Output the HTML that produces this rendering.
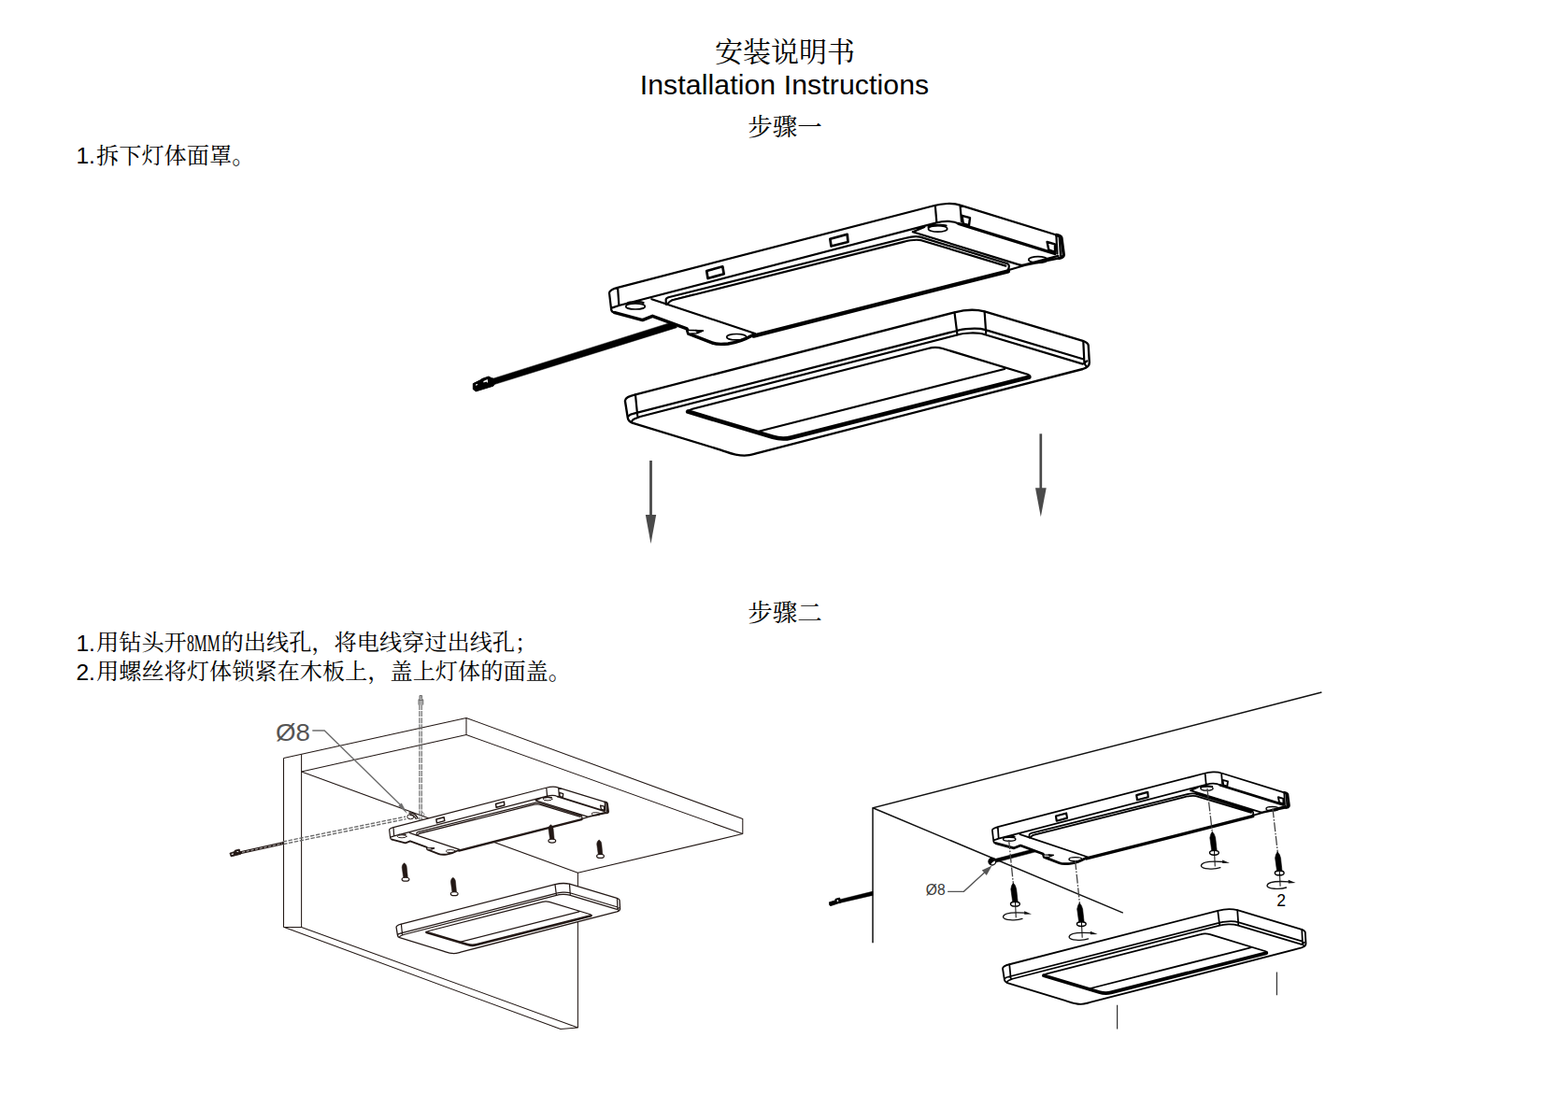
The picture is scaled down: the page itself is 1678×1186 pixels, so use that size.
<!DOCTYPE html>
<html><head><meta charset="utf-8"><title>Installation Instructions</title>
<style>
html,body{margin:0;padding:0;background:#fff;}
body{width:1678px;height:1186px;overflow:hidden;font-family:"Liberation Sans",sans-serif;}
svg{position:absolute;left:0;top:0;display:block}
svg text{font-family:"Liberation Sans",sans-serif;}
svg text.cjk{font-family:"Liberation Serif","Noto Serif CJK SC",serif;}
</style></head><body>
<svg width="1678" height="1186" viewBox="0 0 1678 1186">
<rect width="1678" height="1186" fill="#fff"/>
<text x="839.5" y="101" font-size="30.2" letter-spacing="0.1" text-anchor="middle" fill="#000">Installation Instructions</text>
<text x="81.4" y="175" font-size="24.6" fill="#000">1.</text>
<text x="81.4" y="697.3" font-size="24.6" fill="#000">1.</text>
<text x="81.4" y="727.8" font-size="24.6" fill="#000">2.</text>
<text class="cjk" x="840" y="65.5" font-size="30" text-anchor="middle" fill="#000">安装说明书</text>
<text class="cjk" x="840" y="145" font-size="26.5" text-anchor="middle" fill="#000">步骤一</text>
<text class="cjk" x="840" y="665.2" font-size="26.5" text-anchor="middle" fill="#000">步骤二</text>
<text class="cjk" x="103" y="175" font-size="24.2" fill="#000">拆下灯体面罩。</text>
<text class="cjk" x="103" y="696.3" font-size="24.2" fill="#000">用钻头开</text>
<text class="cjk" x="200" y="696.5" font-size="24.2" textLength="35.5" lengthAdjust="spacingAndGlyphs" fill="#000">8MM</text>
<text class="cjk" x="236.6" y="696.3" font-size="24.2" fill="#000">的出线孔，将电线穿过出线孔；</text>
<text class="cjk" x="103" y="727.3" font-size="24.2" fill="#000">用螺丝将灯体锁紧在木板上，盖上灯体的面盖。</text>

<g>
  <path d="M526.9,405.4 L722.1,343.9 L724.3,350.7 L528.9,411.6 Z" fill="#000" stroke="#000" stroke-width="0.5"/>
  <path d="M506.3,410.6 L515,406.3 L515.4,405.6 L522.9,403 L525.9,404.6 L528,405.2 L528.9,411.6 L527.9,413.2 L509.3,418.9 L506.3,416.7 Z" fill="#000" stroke="#000" stroke-width="0.9" stroke-linejoin="round"/>
  <path d="M509,411.6 L511,411 L511.2,412 L509.2,412.7 Z M517.3,408 L521.8,406.1 L522.1,409.9 L520.5,408.6 L517.5,409.6 Z" fill="#fff"/>
  <g fill="none" stroke="#000" stroke-linecap="round" stroke-linejoin="round">
  <path d="M652,313.5 C652.2,310.5 656,309.2 661,307.9 L1000,220 C1007,218 1020,216.8 1027.5,219.6 L1130.5,251.5 C1133,252 1135.5,252.5 1135.9,254.5 L1138.3,272.7 C1138.3,275 1136,275.8 1133.5,276.3 L1096.6,284 L1078.7,289.2 L806,358.5 C798,363 790,366.5 779.1,368 C770,368.8 765,368.3 761.9,366.9 L736.7,357.2 L735.1,351.9 L698.3,338.3 L687.6,342.6 L657.9,334.7 C656,334.3 654.5,333.5 654.2,331.8 Z" fill="#fff" stroke="none"/>
  <g stroke-width="1.7" fill="#fff"><ellipse cx="680" cy="327.9" rx="10.3" ry="3.1"/><ellipse cx="788.2" cy="360.7" rx="10.5" ry="3.2"/><ellipse cx="1003.6" cy="244.9" rx="10.1" ry="3.3"/><ellipse cx="1110.9" cy="278" rx="10.1" ry="3.3"/></g>
  <path d="
M652,313.5 C652.2,310.5 656,309.2 661,307.9 L1000,220 C1007,218 1020,216.8 1027.5,219.6 L1130.5,251.5
M652,313.5 L654.2,331.8 C654.5,333.5 656,334.3 657.9,334.7
M661.1,308.3 L662.4,327
M1000.8,220 L1002.4,238.4
M1027.5,219.7 L1029,237.5
M654.6,329.6 L662.4,327 L1002.4,238.4
M1002.4,238.4 C1010,236.3 1020,236.3 1026,239.5
M712.9,326 L712.6,321 C712.6,319.4 714,318.8 715.3,318.3 L968.5,255 C974,253.5 980,252.3 984.6,253.6 L1078.1,282.2 C1080.3,283 1080.3,286 1078.7,288.8
M714.1,325.8 C715.5,323.5 717.5,322 719.5,321.3 L966,259.1 C972,257.5 980,256 985.8,257.2 L1076.3,284.6
M697.4,320.2 L808,357
M976.8,248.2 L989.3,242.9
M976.8,248.2 L1090.6,283.4 C1092.5,284 1094.5,284 1096.6,283.4 L1132.4,273.9
M1078.7,289.2 L1096.6,284 L1133.5,276.3
M671,324.6 C674,322.8 684,322.3 688.5,324
M993.5,243 C996,241 1008,240.3 1012.5,241.6
M1130.4,252 L1131.4,271.5
M1133.6,252.8 L1135,273.2
" stroke-width="2.2"/>
  <path d="M718.3,321.2 L742,315.1" stroke-width="1.1"/>
  <path d="
M1026,239.5 L1128.8,271.5
M657.9,334.7 L687.6,342.6 L698.3,338.3 L735.1,351.9 L736.7,357.2 L761.9,366.9 C765,368.3 770,368.8 779.1,368 C790,366.5 798,363 806,358.5
M1130.5,251.5 C1133,252 1135.5,252.5 1135.9,254.5 L1138.3,272.7 C1138.3,275 1136,275.8 1133.5,276.3
" stroke-width="3.4"/>
  <path d="M806.5,359.6 L1078.9,290.3" stroke-width="4.3"/>
  <path d="M735.1,351.9 L737.2,353.4 L752.3,354 L745.8,356.7 L737,357.2 Z" stroke-width="1.6" fill="#fff"/>
  <path d="M744.5,353.3 L752.6,354 L746.8,356.3 Z" stroke-width="1" fill="#000"/>
  <path d="
M756.2,290 L773.3,285.3 L774.7,293.3 L757.5,298 Z
M888.3,255.8 L906.7,250.8 L907.5,259 L889.5,263.5 Z
" stroke-width="2.7"/>
  <path d="
M1029.5,230.8 L1038,233.2 L1037,241.2 L1030.8,239.3 Z
M1120.6,259 L1129,261.4 L1129,269.8 L1122.3,267.5 Z
" stroke-width="2.4"/>
</g>
  <g fill="none" stroke="#000" stroke-linecap="round" stroke-linejoin="round">
  <path d="M668.9,429 C669.2,425.5 673,424 680,422.3 L1021.5,334.3 C1030,332.1 1043,330.8 1053.6,333.3 L1158.8,364.9 C1162,366 1164.3,367 1164.7,369.5 L1165.8,388 C1166,392 1162,394 1158.8,395 L812,484.6 C806,486.2 802,487.6 796.7,487.6 C786,487.6 780,484.5 772,481.8 L676.5,452.6 C673,451.3 672,449.5 671.8,447.2 Z" fill="#fff" stroke-width="2.35"/>
  <path d="
M680,422.6 L682.2,445
M672.5,445.4 C674,443.8 676,443.2 677.4,442.9 L1023.1,354.2
M676,451.5 C676.8,449.5 677.6,449 678.6,448.6 L685,446 L1024.5,358.5
M1021.5,334.7 L1024.5,358.5
M1053.6,333.6 L1055.2,356.5
M1023.1,354.2 C1030,352 1046,350.5 1054.7,353.1
M1024.5,358.5 C1031,356.3 1046,355.5 1053.6,358
M1054.7,353.1 L1158.8,384.2
M1053.6,358 L1158.8,389.6
M1159.3,365.4 L1160.4,388.8
M1160.4,388.5 L1163.3,386.3
M1160.4,388.8 L1162,391.5
M735.8,440.8 C737,439 738,438.5 741,437.7 L993.3,373 C998,371.5 1003,371.3 1008.6,373 L1099.8,400.8 C1102,401.6 1103,402.8 1101.5,404.3
M808,462.8 L1075,395
" stroke-width="2.2"/>
  <path d="
M736.2,440.6 L826.9,467.8 C834,469.9 841,469.9 846.6,468.4 L1101.2,403.7
" stroke-width="4.7"/>
</g>
  <g stroke="#4a4a4a" fill="#4a4a4a">
    <line x1="696.5" y1="493" x2="696.5" y2="552" stroke-width="2.8"/>
    <path d="M690.8,550.9 L702.2,550.9 L696.5,582 Z" stroke="none"/>
    <line x1="1113.8" y1="464.3" x2="1113.8" y2="524" stroke-width="2.7"/>
    <path d="M1108,522.3 L1119.7,522.3 L1113.8,553.3 Z" stroke="none"/>
  </g>
</g>

<g fill="none" stroke="#231815" stroke-width="1.05" stroke-linejoin="round">
  <path d="M303.5,811.4 L499,768.5 L794.8,876.6 L794.8,892.6 L618.4,934.3 L618.4,1099.9"/>
  <path d="M499,768.5 L499,786.5 L794.8,892.6"/>
  <path d="M322.6,826 L499,786.5"/>
  <path d="M303.5,811.4 L303.5,992.3 L599.9,1101.6 L618.4,1099.9 L322.6,992.5 L303.5,992.3"/>
  <path d="M322.6,807.5 L322.6,992.7"/>
  <path d="M322.6,826 L618.4,934.3"/>
</g>

<text x="295" y="793" font-size="26" textLength="37" lengthAdjust="spacingAndGlyphs" fill="#555">Ø8</text>
<path d="M334.3,782 L347.2,782 L428.5,861.5" fill="none" stroke="#6e6e6e" stroke-width="1.4"/>
<path d="M435.9,871 L426.3,862.5 L429.8,859.6 Z" fill="#6e6e6e"/>


<g fill="none" stroke="#6a6a6a" stroke-linecap="butt">
  <line x1="448.95" y1="754" x2="448.95" y2="877.8" stroke-width="1.2" stroke-dasharray="6 1.1"/>
  <line x1="451.25" y1="754" x2="451.25" y2="877.8" stroke-width="1.2" stroke-dasharray="6 1.1"/>
  <line x1="302.7" y1="901" x2="434.1" y2="874.1" stroke-width="1.35" stroke-dasharray="4.4 1.6"/>
  <line x1="303.1" y1="903.6" x2="434.5" y2="876.7" stroke-width="1.35" stroke-dasharray="4.4 1.6"/>
</g>
<path d="M448,754.5 L448,749 L449,747.5 L449,744.5 L451.6,744.5 L451.6,747.5 L452.8,749.5 L452.8,754.5 M448,749.5 L452.8,749.5" fill="#aaa" stroke="#6e6e6e" stroke-width="1"/>
<g fill="none" stroke="#231815" stroke-width="1">
  <ellipse cx="439.3" cy="874.2" rx="3.5" ry="2.6" fill="#fff"/>
  <path d="M437.5,870.2 Q444,869.2 447.3,876.5" stroke-width="1.5"/>
  <path d="M438.5,872.3 Q443,872 445.5,877" stroke-width="1.2"/>
  <path d="M452,869 Q455,871 453.5,873.5" stroke="#6e6e6e" stroke-width="0.8"/>
</g>


<line x1="256" y1="912.9" x2="303.3" y2="902.6" stroke="#231815" stroke-width="3.1"/>
<line x1="259" y1="912.3" x2="302" y2="902.9" stroke="#fff" stroke-width="0.7" stroke-dasharray="3.2 1.6"/>
<path d="M245.9,913.2 L250.8,911.6 L251.2,910.3 L256.2,909 L257.6,914.3 L247.2,916.9 Z" fill="#231815" stroke="#231815" stroke-width="0.8"/>
<path d="M247.6,913.9 L249.6,913.3 L249.9,914.5 L247.9,915.1 Z M252.5,911.6 L255,910.9 L255.3,912.3 Z" fill="#fff"/>

<g><g transform="translate(102.38,737.23) scale(0.482)"><g fill="none" stroke="#231815" stroke-linecap="round" stroke-linejoin="round">
  <path d="M652,313.5 C652.2,310.5 656,309.2 661,307.9 L1000,220 C1007,218 1020,216.8 1027.5,219.6 L1130.5,251.5 C1133,252 1135.5,252.5 1135.9,254.5 L1138.3,272.7 C1138.3,275 1136,275.8 1133.5,276.3 L1096.6,284 L1078.7,289.2 L806,358.5 C798,363 790,366.5 779.1,368 C770,368.8 765,368.3 761.9,366.9 L736.7,357.2 L735.1,351.9 L698.3,338.3 L687.6,342.6 L657.9,334.7 C656,334.3 654.5,333.5 654.2,331.8 Z" fill="#fff" stroke="none"/>
  <g stroke-width="1.95" fill="#fff"><ellipse cx="680" cy="327.9" rx="10.3" ry="3.1"/><ellipse cx="788.2" cy="360.7" rx="10.5" ry="3.2"/><ellipse cx="1003.6" cy="244.9" rx="10.1" ry="3.3"/><ellipse cx="1110.9" cy="278" rx="10.1" ry="3.3"/></g>
  <path d="
M652,313.5 C652.2,310.5 656,309.2 661,307.9 L1000,220 C1007,218 1020,216.8 1027.5,219.6 L1130.5,251.5
M652,313.5 L654.2,331.8 C654.5,333.5 656,334.3 657.9,334.7
M661.1,308.3 L662.4,327
M1000.8,220 L1002.4,238.4
M1027.5,219.7 L1029,237.5
M654.6,329.6 L662.4,327 L1002.4,238.4
M1002.4,238.4 C1010,236.3 1020,236.3 1026,239.5
M712.9,326 L712.6,321 C712.6,319.4 714,318.8 715.3,318.3 L968.5,255 C974,253.5 980,252.3 984.6,253.6 L1078.1,282.2 C1080.3,283 1080.3,286 1078.7,288.8
M714.1,325.8 C715.5,323.5 717.5,322 719.5,321.3 L966,259.1 C972,257.5 980,256 985.8,257.2 L1076.3,284.6
M697.4,320.2 L808,357
M976.8,248.2 L989.3,242.9
M976.8,248.2 L1090.6,283.4 C1092.5,284 1094.5,284 1096.6,283.4 L1132.4,273.9
M1078.7,289.2 L1096.6,284 L1133.5,276.3
M671,324.6 C674,322.8 684,322.3 688.5,324
M993.5,243 C996,241 1008,240.3 1012.5,241.6
M1130.4,252 L1131.4,271.5
M1133.6,252.8 L1135,273.2
" stroke-width="2.53"/>
  <path d="M718.3,321.2 L742,315.1" stroke-width="1.26"/>
  <path d="
M1026,239.5 L1128.8,271.5
M657.9,334.7 L687.6,342.6 L698.3,338.3 L735.1,351.9 L736.7,357.2 L761.9,366.9 C765,368.3 770,368.8 779.1,368 C790,366.5 798,363 806,358.5
M1130.5,251.5 C1133,252 1135.5,252.5 1135.9,254.5 L1138.3,272.7 C1138.3,275 1136,275.8 1133.5,276.3
" stroke-width="3.91"/>
  <path d="M806.5,359.6 L1078.9,290.3" stroke-width="4.94"/>
  <path d="M735.1,351.9 L737.2,353.4 L752.3,354 L745.8,356.7 L737,357.2 Z" stroke-width="1.84" fill="#fff"/>
  <path d="M744.5,353.3 L752.6,354 L746.8,356.3 Z" stroke-width="1.15" fill="#231815"/>
  <path d="
M756.2,290 L773.3,285.3 L774.7,293.3 L757.5,298 Z
M888.3,255.8 L906.7,250.8 L907.5,259 L889.5,263.5 Z
" stroke-width="3.1"/>
  <path d="
M1029.5,230.8 L1038,233.2 L1037,241.2 L1030.8,239.3 Z
M1120.6,259 L1129,261.4 L1129,269.8 L1122.3,267.5 Z
" stroke-width="2.76"/>
</g></g></g>
<path d="M431.8,939.9 L430.2,928.6 C430.2,926.1 431.4,924.5 432.6,923.8000000000001 C433.9,924.5 435.2,926.1 435.3,928.6 L436.4,939.9 Z" fill="#231815" stroke="#231815" stroke-width="0.5"/><ellipse cx="434" cy="941.2" rx="3.9" ry="1.95" fill="#fff" stroke="#231815" stroke-width="1.2"/>
<path d="M484.0,955.4 L482.4,944.1 C482.4,941.6 483.59999999999997,940.0 484.8,939.3000000000001 C486.09999999999997,940.0 487.4,941.6 487.5,944.1 L488.59999999999997,955.4 Z" fill="#231815" stroke="#231815" stroke-width="0.5"/><ellipse cx="486.2" cy="956.7" rx="3.9" ry="1.95" fill="#fff" stroke="#231815" stroke-width="1.2"/>
<path d="M588.5999999999999,898.8 L587.0,887.5 C587.0,885 588.1999999999999,883.4 589.4,882.7 C590.6999999999999,883.4 592.0,885 592.0999999999999,887.5 L593.1999999999999,898.8 Z" fill="#231815" stroke="#231815" stroke-width="0.5"/><ellipse cx="590.8" cy="900.1" rx="3.9" ry="1.95" fill="#fff" stroke="#231815" stroke-width="1.2"/>
<path d="M640.3,915.0999999999999 L638.7,903.8 C638.7,901.3 639.9,899.6999999999999 641.1,899.0 C642.4,899.6999999999999 643.7,901.3 643.8,903.8 L644.9,915.0999999999999 Z" fill="#231815" stroke="#231815" stroke-width="0.5"/><ellipse cx="642.5" cy="916.4" rx="3.9" ry="1.95" fill="#fff" stroke="#231815" stroke-width="1.2"/>
<g><g transform="translate(101.65,785.56) scale(0.482)"><g fill="none" stroke="#231815" stroke-linecap="round" stroke-linejoin="round">
  <path d="M668.9,429 C669.2,425.5 673,424 680,422.3 L1021.5,334.3 C1030,332.1 1043,330.8 1053.6,333.3 L1158.8,364.9 C1162,366 1164.3,367 1164.7,369.5 L1165.8,388 C1166,392 1162,394 1158.8,395 L812,484.6 C806,486.2 802,487.6 796.7,487.6 C786,487.6 780,484.5 772,481.8 L676.5,452.6 C673,451.3 672,449.5 671.8,447.2 Z" fill="#fff" stroke-width="2.7"/>
  <path d="
M680,422.6 L682.2,445
M672.5,445.4 C674,443.8 676,443.2 677.4,442.9 L1023.1,354.2
M676,451.5 C676.8,449.5 677.6,449 678.6,448.6 L685,446 L1024.5,358.5
M1021.5,334.7 L1024.5,358.5
M1053.6,333.6 L1055.2,356.5
M1023.1,354.2 C1030,352 1046,350.5 1054.7,353.1
M1024.5,358.5 C1031,356.3 1046,355.5 1053.6,358
M1054.7,353.1 L1158.8,384.2
M1053.6,358 L1158.8,389.6
M1159.3,365.4 L1160.4,388.8
M1160.4,388.5 L1163.3,386.3
M1160.4,388.8 L1162,391.5
M735.8,440.8 C737,439 738,438.5 741,437.7 L993.3,373 C998,371.5 1003,371.3 1008.6,373 L1099.8,400.8 C1102,401.6 1103,402.8 1101.5,404.3
M808,462.8 L1075,395
" stroke-width="2.53"/>
  <path d="
M736.2,440.6 L826.9,467.8 C834,469.9 841,469.9 846.6,468.4 L1101.2,403.7
" stroke-width="5.4"/>
</g></g></g>

<g fill="none" stroke="#111" stroke-width="1.5">
  <path d="M1414.4,741 L934,864.8 L934,1009.3"/>
  <path d="M934,864.8 L1201.8,977.1"/>
</g>
<path d="M897,963.2 L934,954.1 L934,958.4 L898,966.8 Z" fill="#000" stroke="#000" stroke-width="0.4"/>
<path d="M887.4,965.8 L893.6,963.9 L894,962.3 L898.6,961 L899.8,966 L889,969.6 L887.8,969 Z" fill="#000" stroke="#000" stroke-width="0.8"/>
<path d="M895.5,963.6 L897,963.2 L897.3,964.8 L895.9,965.2 Z" fill="#fff"/>
<path d="M1064.4,919.6 L1108.2,908.2 L1109.2,911.6 L1065,923.3 Z" fill="#000" stroke="#000" stroke-width="0.5"/>
<circle cx="1061.8" cy="922.2" r="3.8" fill="#fff" stroke="#000" stroke-width="1.3"/>
<path d="M1058.8,924.6 A3.8,3.8 0 0 1 1064.8,919.6 L1066,921.2 Q1061.5,921.8 1060.3,925.6 Z" fill="#000"/>

<g><g transform="translate(636.14,684.11) scale(0.653)"><g fill="none" stroke="#000" stroke-linecap="round" stroke-linejoin="round">
  <path d="M652,313.5 C652.2,310.5 656,309.2 661,307.9 L1000,220 C1007,218 1020,216.8 1027.5,219.6 L1130.5,251.5 C1133,252 1135.5,252.5 1135.9,254.5 L1138.3,272.7 C1138.3,275 1136,275.8 1133.5,276.3 L1096.6,284 L1078.7,289.2 L806,358.5 C798,363 790,366.5 779.1,368 C770,368.8 765,368.3 761.9,366.9 L736.7,357.2 L735.1,351.9 L698.3,338.3 L687.6,342.6 L657.9,334.7 C656,334.3 654.5,333.5 654.2,331.8 Z" fill="#fff" stroke="none"/>
  <g stroke-width="2.07" fill="#fff"><ellipse cx="680" cy="327.9" rx="10.3" ry="3.1"/><ellipse cx="788.2" cy="360.7" rx="10.5" ry="3.2"/><ellipse cx="1003.6" cy="244.9" rx="10.1" ry="3.3"/><ellipse cx="1110.9" cy="278" rx="10.1" ry="3.3"/></g>
  <path d="
M652,313.5 C652.2,310.5 656,309.2 661,307.9 L1000,220 C1007,218 1020,216.8 1027.5,219.6 L1130.5,251.5
M652,313.5 L654.2,331.8 C654.5,333.5 656,334.3 657.9,334.7
M661.1,308.3 L662.4,327
M1000.8,220 L1002.4,238.4
M1027.5,219.7 L1029,237.5
M654.6,329.6 L662.4,327 L1002.4,238.4
M1002.4,238.4 C1010,236.3 1020,236.3 1026,239.5
M712.9,326 L712.6,321 C712.6,319.4 714,318.8 715.3,318.3 L968.5,255 C974,253.5 980,252.3 984.6,253.6 L1078.1,282.2 C1080.3,283 1080.3,286 1078.7,288.8
M714.1,325.8 C715.5,323.5 717.5,322 719.5,321.3 L966,259.1 C972,257.5 980,256 985.8,257.2 L1076.3,284.6
M697.4,320.2 L808,357
M976.8,248.2 L989.3,242.9
M976.8,248.2 L1090.6,283.4 C1092.5,284 1094.5,284 1096.6,283.4 L1132.4,273.9
M1078.7,289.2 L1096.6,284 L1133.5,276.3
M671,324.6 C674,322.8 684,322.3 688.5,324
M993.5,243 C996,241 1008,240.3 1012.5,241.6
M1130.4,252 L1131.4,271.5
M1133.6,252.8 L1135,273.2
" stroke-width="2.68"/>
  <path d="M718.3,321.2 L742,315.1" stroke-width="1.34"/>
  <path d="
M1026,239.5 L1128.8,271.5
M657.9,334.7 L687.6,342.6 L698.3,338.3 L735.1,351.9 L736.7,357.2 L761.9,366.9 C765,368.3 770,368.8 779.1,368 C790,366.5 798,363 806,358.5
M1130.5,251.5 C1133,252 1135.5,252.5 1135.9,254.5 L1138.3,272.7 C1138.3,275 1136,275.8 1133.5,276.3
" stroke-width="4.15"/>
  <path d="M806.5,359.6 L1078.9,290.3" stroke-width="5.25"/>
  <path d="M735.1,351.9 L737.2,353.4 L752.3,354 L745.8,356.7 L737,357.2 Z" stroke-width="1.95" fill="#fff"/>
  <path d="M744.5,353.3 L752.6,354 L746.8,356.3 Z" stroke-width="1.22" fill="#000"/>
  <path d="
M756.2,290 L773.3,285.3 L774.7,293.3 L757.5,298 Z
M888.3,255.8 L906.7,250.8 L907.5,259 L889.5,263.5 Z
" stroke-width="3.29"/>
  <path d="
M1029.5,230.8 L1038,233.2 L1037,241.2 L1030.8,239.3 Z
M1120.6,259 L1129,261.4 L1129,269.8 L1122.3,267.5 Z
" stroke-width="2.93"/>
</g></g></g>
<line x1="1079.6" y1="899" x2="1084.3" y2="945.3" stroke="#444" stroke-width="1.3" stroke-dasharray="10 1.6 1.6 1.6"/>
<line x1="1150.6" y1="921" x2="1155.4" y2="966.7" stroke="#444" stroke-width="1.3" stroke-dasharray="10 1.6 1.6 1.6"/>
<line x1="1291.9" y1="843.8" x2="1297.2" y2="889.6" stroke="#444" stroke-width="1.3" stroke-dasharray="10 1.6 1.6 1.6"/>
<line x1="1362" y1="865.5" x2="1367.3" y2="912.5" stroke="#444" stroke-width="1.3" stroke-dasharray="10 1.6 1.6 1.6"/>
<line x1="1086.7" y1="970.2" x2="1087.3000000000002" y2="982.2" stroke="#333" stroke-width="1.2"/>
<path d="M1094.0,983.4 C1087.5,985.9 1073.0,984.9 1073.5,981.4 C1074.0,977.7 1083.2,976.3 1096.7,977.2" fill="none" stroke="#111" stroke-width="1.35" stroke-linecap="round"/><path d="M1096.2,975.2 L1104.0,978.4 L1096.2,978.8 Z" fill="#111"/>
<path d="M1083.8000000000002,966.2 L1081.8000000000002,951.7 Q1082.2,947.7 1084.3000000000002,945.1 Q1087.0,947.7 1087.7,951.7 L1089.3000000000002,966.2 Z" fill="#000" stroke="#000" stroke-width="0.6"/><ellipse cx="1086.4" cy="967.7" rx="4.9" ry="2.4" fill="#fff" stroke="#000" stroke-width="1.4"/><line x1="1086.5" y1="965.5" x2="1086.7" y2="970.1" stroke="#000" stroke-width="1"/>
<line x1="1157.6" y1="991.6" x2="1158.2" y2="1003.7" stroke="#333" stroke-width="1.2"/>
<path d="M1164.6,1004.9 C1158.1,1007.4 1143.6,1006.4 1144.1,1002.9 C1144.6,999.2 1153.8,997.8 1167.3,998.7" fill="none" stroke="#111" stroke-width="1.35" stroke-linecap="round"/><path d="M1166.8,996.7 L1174.6,999.9 L1166.8,1000.3 Z" fill="#111"/>
<path d="M1154.7,987.6 L1152.7,973.1 Q1153.1,969.1 1155.2,966.5 Q1157.8999999999999,969.1 1158.6,973.1 L1160.2,987.6 Z" fill="#000" stroke="#000" stroke-width="0.6"/><ellipse cx="1157.3" cy="989.1" rx="4.9" ry="2.4" fill="#fff" stroke="#000" stroke-width="1.4"/><line x1="1157.3999999999999" y1="986.9" x2="1157.6" y2="991.5" stroke="#000" stroke-width="1"/>
<line x1="1299.7" y1="915.3" x2="1300.3000000000002" y2="927.5" stroke="#333" stroke-width="1.2"/>
<path d="M1305.9,928.7 C1299.4,931.2 1284.9,930.2 1285.4,926.7 C1285.9,923.0 1295.1,921.6 1308.6,922.5" fill="none" stroke="#111" stroke-width="1.35" stroke-linecap="round"/><path d="M1308.1,920.5 L1315.9,923.7 L1308.1,924.1 Z" fill="#111"/>
<path d="M1296.8000000000002,911.3 L1294.8000000000002,896.8 Q1295.2,892.8 1297.3000000000002,890.1999999999999 Q1300.0,892.8 1300.7,896.8 L1302.3000000000002,911.3 Z" fill="#000" stroke="#000" stroke-width="0.6"/><ellipse cx="1299.4" cy="912.8" rx="4.9" ry="2.4" fill="#fff" stroke="#000" stroke-width="1.4"/><line x1="1299.5" y1="910.5999999999999" x2="1299.7" y2="915.1999999999999" stroke="#000" stroke-width="1"/>
<line x1="1369.5" y1="936.9" x2="1370.1000000000001" y2="948.8000000000001" stroke="#333" stroke-width="1.2"/>
<path d="M1376.5,950.0 C1370.0,952.5 1355.5,951.5 1356.0,948.0 C1356.5,944.3 1365.7,942.9 1379.2,943.8" fill="none" stroke="#111" stroke-width="1.35" stroke-linecap="round"/><path d="M1378.7,941.8 L1386.5,945.0 L1378.7,945.4 Z" fill="#111"/>
<path d="M1366.6000000000001,932.9 L1364.6000000000001,918.4 Q1365.0,914.4 1367.1000000000001,911.8 Q1369.8,914.4 1370.5,918.4 L1372.1000000000001,932.9 Z" fill="#000" stroke="#000" stroke-width="0.6"/><ellipse cx="1369.2" cy="934.4" rx="4.9" ry="2.4" fill="#fff" stroke="#000" stroke-width="1.4"/><line x1="1369.3" y1="932.1999999999999" x2="1369.5" y2="936.8" stroke="#000" stroke-width="1"/>
<g><g transform="translate(636.21,756.52) scale(0.653)"><g fill="none" stroke="#000" stroke-linecap="round" stroke-linejoin="round">
  <path d="M668.9,429 C669.2,425.5 673,424 680,422.3 L1021.5,334.3 C1030,332.1 1043,330.8 1053.6,333.3 L1158.8,364.9 C1162,366 1164.3,367 1164.7,369.5 L1165.8,388 C1166,392 1162,394 1158.8,395 L812,484.6 C806,486.2 802,487.6 796.7,487.6 C786,487.6 780,484.5 772,481.8 L676.5,452.6 C673,451.3 672,449.5 671.8,447.2 Z" fill="#fff" stroke-width="2.87"/>
  <path d="
M680,422.6 L682.2,445
M672.5,445.4 C674,443.8 676,443.2 677.4,442.9 L1023.1,354.2
M676,451.5 C676.8,449.5 677.6,449 678.6,448.6 L685,446 L1024.5,358.5
M1021.5,334.7 L1024.5,358.5
M1053.6,333.6 L1055.2,356.5
M1023.1,354.2 C1030,352 1046,350.5 1054.7,353.1
M1024.5,358.5 C1031,356.3 1046,355.5 1053.6,358
M1054.7,353.1 L1158.8,384.2
M1053.6,358 L1158.8,389.6
M1159.3,365.4 L1160.4,388.8
M1160.4,388.5 L1163.3,386.3
M1160.4,388.8 L1162,391.5
M735.8,440.8 C737,439 738,438.5 741,437.7 L993.3,373 C998,371.5 1003,371.3 1008.6,373 L1099.8,400.8 C1102,401.6 1103,402.8 1101.5,404.3
M808,462.8 L1075,395
" stroke-width="2.68"/>
  <path d="
M736.2,440.6 L826.9,467.8 C834,469.9 841,469.9 846.6,468.4 L1101.2,403.7
" stroke-width="5.73"/>
</g></g></g>

<text x="990.8" y="958" font-family="Liberation Sans, sans-serif" font-size="15.6" fill="#3c3c3c">Ø8</text>
<path d="M1014.1,954.3 L1031.4,954.3 L1054,933.5" fill="none" stroke="#555" stroke-width="1.35"/>
<path d="M1061.6,926.5 L1050.8,931.6 L1055.8,937 Z" fill="#555"/>
<text x="1366.3" y="969.5" font-family="Liberation Sans, sans-serif" font-size="17.5" fill="#000">2</text>
<g stroke="#333" stroke-width="1.2"><line x1="1195.6" y1="1075.7" x2="1195.6" y2="1101.6"/><line x1="1366.4" y1="1040.4" x2="1366.4" y2="1065.3"/></g>

</svg>
</body></html>
